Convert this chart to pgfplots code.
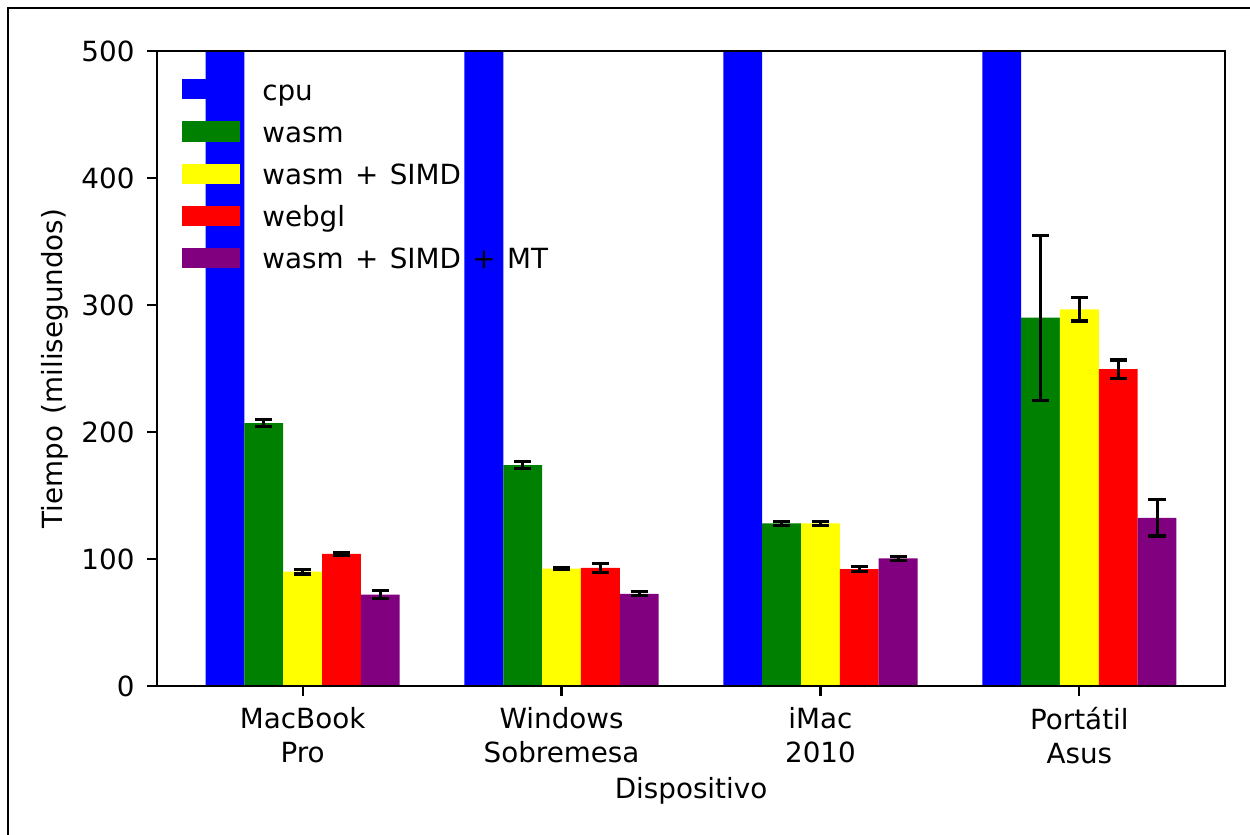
\documentclass[border=0pt]{standalone}
\usepackage{fontspec}
\setmainfont{DejaVu Sans}[WordSpace=1.3]
\usepackage{pgfplots}
\usepackage{pgfplotstable}
\pgfplotsset{compat=1.18}
\definecolor{mblue}{HTML}{0000FF}
\definecolor{mgreen}{HTML}{008000}
\definecolor{myellow}{HTML}{FFFF00}
\definecolor{mred}{HTML}{FF0000}
\definecolor{mpurple}{HTML}{800080}
\pgfplotstableread{
x y
-0.3 1000
0.7 1000
1.7 1000
2.7 1000
}\cpu
\pgfplotstableread{
x y e
-0.15 207 2.5
0.85 174 3
1.85 128 1.5
2.85 290 65
}\wasm
\pgfplotstableread{
x y e
0 90 1.8
1 92.5 1
2 128 1.5
3 296.6 9.2
}\simd
\pgfplotstableread{
x y e
0.15 104 1.3
1.15 93 3.5
2.15 92 2
3.15 249.5 7.2
}\webgl
\pgfplotstableread{
x y e
0.3 72 3
1.3 72.6 1.5
2.3 100.5 1.5
3.3 132.3 14.2
}\mt
\newcommand{\ff}{\fontsize{10bp}{12bp}\selectfont}
\pgfplotsset{
  merr/.style={
    error bars/.cd, y dir=both, y explicit,
    error bar style={draw=black, line width=1.1bp},
    error mark options={draw=black, line width=1.1bp, mark size=3.1bp, rotate=90}},
  mleg/.style={/pgfplots/legend image code/.code={\fill[#1] (0bp,-2.2bp) rectangle (20.9bp,5bp);}}
}
\begin{document}
\begin{tikzpicture}[font=\ff]
\useasboundingbox (0,0) rectangle (450bp,300.6bp);
\draw[line width=0.9bp] (2.88bp,0) -- (2.88bp,297.72bp) -- (450bp,297.72bp);
\begin{axis}[
  at={(56.52bp,53.64bp)}, anchor=south west,
  scale only axis, width=384.48bp, height=228.6bp,
  xmin=-0.5625, xmax=3.5625, ymin=0, ymax=500,
  axis on top,
  axis line style={line width=0.8bp},
  tick style={line width=0.8bp, black},
  tick align=outside, major tick length=3.5bp,
  xtick={0,1,2,3},
  xticklabels={{MacBook\\Pro},{Windows\\Sobremesa},{iMac\\2010},{Portátil\\Asus}},
  xtick pos=bottom, ytick pos=left,
  ytick={0,100,200,300,400,500},
  /pgf/number format/assume math mode=true,
  tick label style={font=\ff},
  xticklabel style={align=center, inner sep=0pt, yshift=-4.1bp},
  yticklabel style={inner sep=0pt, xshift=-4.4bp},
  xlabel={Dispositivo},
  ylabel={Tiempo (milisegundos)},
  xlabel style={at={(axis description cs:0.5,-0.17638)}, anchor=base, font=\ff},
  ylabel style={at={(axis description cs:-0.08895,0.5)}, anchor=base, rotate=0, font=\ff},
  legend style={draw=none, fill=none, at={(axis description cs:0,1)}, anchor=north west,
    xshift=9bp, yshift=-7.64bp, inner sep=0pt, outer sep=0pt, row sep=0pt, column sep=8bp,
    font=\ff, nodes={inner sep=0pt, text height=10bp, text depth=5.16bp}},
  legend cell align=left,
]
\addplot[ybar, bar width=0.15, bar shift=0pt, fill=mblue, draw=none, mleg=mblue]
  table[x=x,y=y]{\cpu};
\addlegendentry{cpu}
\addplot[ybar, bar width=0.15, bar shift=0pt, fill=mgreen, draw=none, mleg=mgreen, merr]
  table[x=x,y=y,y error=e]{\wasm};
\addlegendentry{wasm}
\addplot[ybar, bar width=0.15, bar shift=0pt, fill=myellow, draw=none, mleg=myellow, merr]
  table[x=x,y=y,y error=e]{\simd};
\addlegendentry{wasm + SIMD}
\addplot[ybar, bar width=0.15, bar shift=0pt, fill=mred, draw=none, mleg=mred, merr]
  table[x=x,y=y,y error=e]{\webgl};
\addlegendentry{webgl}
\addplot[ybar, bar width=0.15, bar shift=0pt, fill=mpurple, draw=none, mleg=mpurple, merr]
  table[x=x,y=y,y error=e]{\mt};
\addlegendentry{wasm + SIMD + MT}
\end{axis}
\end{tikzpicture}
\end{document}
